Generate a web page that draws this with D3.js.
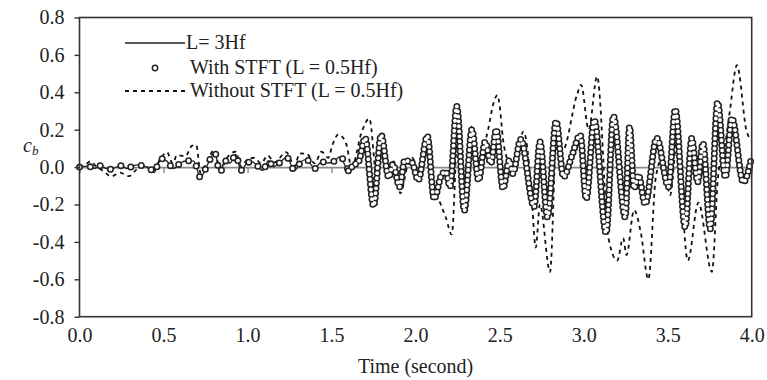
<!DOCTYPE html>
<html>
<head>
<meta charset="utf-8">
<script src="https://cdn.jsdelivr.net/npm/d3@7"></script>
<style>
  html, body { margin: 0; padding: 0; background: #fff; }
  svg { display: block; }
  text { font-family: "Liberation Serif", "Times New Roman", serif; fill: #222; }
</style>
</head>
<body>
<svg id="chart" width="767" height="380"></svg>
<script>
// ---------- data ----------
const xTicks = [0, 0.5, 1.0, 1.5, 2.0, 2.5, 3.0, 3.5, 4.0];
const xTickLabels = ["0.0", "0.5", "1.0", "1.5", "2.0", "2.5", "3.0", "3.5", "4.0"];
const yTicks = [-0.8, -0.6, -0.4, -0.2, 0.0, 0.2, 0.4, 0.6, 0.8];
const yTickLabels = ["-0.8", "-0.6", "-0.4", "-0.2", "0.0", "0.2", "0.4", "0.6", "0.8"];
const seriesNames = ["L= 3Hf", "With STFT (L = 0.5Hf)", "Without STFT (L = 0.5Hf)"];

// L = 3Hf (solid) – time (s) and c_b
const lineTime = [0, 0.05, 0.09, 0.12, 0.15, 0.18, 0.22, 0.25, 0.28, 0.31, 0.34, 0.38, 0.42, 0.445, 0.48, 0.52, 0.56, 0.60, 0.64, 0.68, 0.72, 0.76, 0.805, 0.836, 0.866, 0.896, 0.93, 0.96, 0.995, 1.025, 1.055, 1.09, 1.124, 1.154, 1.19, 1.233, 1.28, 1.318, 1.35, 1.40, 1.44, 1.48, 1.515, 1.55, 1.60, 1.63, 1.66, 1.70, 1.75, 1.795, 1.84, 1.865, 1.905, 1.935, 1.96, 1.98, 2.015, 2.07, 2.11, 2.155, 2.18, 2.205, 2.245, 2.29, 2.335, 2.375, 2.414, 2.448, 2.48, 2.52, 2.558, 2.578, 2.626, 2.705, 2.74, 2.785, 2.836, 2.88, 2.93, 2.98, 3.015, 3.063, 3.134, 3.177, 3.247, 3.273, 3.30, 3.326, 3.366, 3.435, 3.505, 3.545, 3.604, 3.643, 3.678, 3.71, 3.753, 3.797, 3.843, 3.882, 3.95, 4.0];
const lineValue = [0, 0.005, -0.008, 0.008, -0.004, -0.012, 0.0, 0.008, -0.008, 0.002, 0.012, 0.006, -0.008, -0.03, 0.045, 0.032, -0.008, 0.022, 0.034, 0.032, -0.055, 0.01, 0.078, -0.03, 0.034, 0.022, 0.068, -0.018, 0.02, 0.03, 0.01, -0.018, 0.034, 0.002, 0.023, 0.052, -0.018, 0.028, 0.041, -0.008, 0.028, 0.022, 0.032, 0.055, -0.02, 0.01, 0.028, 0.153, -0.205, 0.171, -0.055, 0.016, -0.105, 0.036, 0.03, 0.023, -0.07, 0.166, -0.17, -0.04, -0.025, -0.105, 0.322, -0.23, 0.198, -0.07, 0.135, 0.02, 0.198, -0.114, 0.037, -0.034, 0.148, -0.21, 0.135, -0.266, 0.242, -0.052, 0.06, 0.171, -0.168, 0.25, -0.35, 0.27, -0.266, 0.215, -0.114, -0.043, -0.195, 0.153, -0.105, 0.305, -0.32, 0.153, -0.08, 0.127, -0.328, 0.344, -0.055, 0.26, -0.08, 0.055];

// With STFT (L = 0.5Hf) – circles
const stftTime = [0, 0.05, 0.09, 0.12, 0.15, 0.18, 0.22, 0.25, 0.28, 0.31, 0.34, 0.38, 0.42, 0.445, 0.48, 0.52, 0.56, 0.60, 0.64, 0.68, 0.72, 0.76, 0.805, 0.836, 0.866, 0.896, 0.93, 0.96, 0.995, 1.025, 1.055, 1.09, 1.124, 1.154, 1.19, 1.233, 1.28, 1.318, 1.35, 1.40, 1.44, 1.48, 1.515, 1.55, 1.60, 1.63, 1.66, 1.70, 1.75, 1.795, 1.84, 1.865, 1.905, 1.935, 1.96, 1.98, 2.015, 2.07, 2.11, 2.155, 2.18, 2.205, 2.245, 2.29, 2.335, 2.375, 2.414, 2.448, 2.48, 2.52, 2.558, 2.578, 2.626, 2.705, 2.74, 2.785, 2.836, 2.88, 2.93, 2.98, 3.015, 3.063, 3.134, 3.177, 3.247, 3.273, 3.30, 3.326, 3.366, 3.435, 3.505, 3.545, 3.604, 3.643, 3.678, 3.71, 3.753, 3.797, 3.843, 3.882, 3.95, 4.0];
const stftValue = [0, 0.005, -0.008, 0.008, -0.004, -0.012, 0.0, 0.008, -0.008, 0.002, 0.012, 0.006, -0.008, -0.03, 0.046, 0.032, -0.008, 0.022, 0.034, 0.032, -0.056, 0.01, 0.079, -0.03, 0.034, 0.022, 0.068, -0.018, 0.02, 0.03, 0.01, -0.018, 0.034, 0.002, 0.023, 0.052, -0.018, 0.028, 0.041, -0.008, 0.028, 0.022, 0.032, 0.055, -0.02, 0.01, 0.028, 0.155, -0.207, 0.172, -0.055, 0.016, -0.105, 0.036, 0.03, 0.023, -0.07, 0.166, -0.17, -0.04, -0.025, -0.105, 0.325, -0.232, 0.2, -0.07, 0.135, 0.02, 0.2, -0.114, 0.037, -0.034, 0.148, -0.212, 0.135, -0.268, 0.245, -0.052, 0.06, 0.171, -0.17, 0.252, -0.352, 0.272, -0.268, 0.215, -0.114, -0.043, -0.197, 0.155, -0.105, 0.308, -0.322, 0.153, -0.08, 0.127, -0.33, 0.347, -0.055, 0.262, -0.08, 0.055];

// Without STFT (L = 0.5Hf) – dashed
const dashTime = [0, 0.03, 0.063, 0.10, 0.14, 0.19, 0.24, 0.295, 0.34, 0.38, 0.44, 0.48, 0.52, 0.555, 0.58, 0.63, 0.67, 0.695, 0.72, 0.76, 0.80, 0.84, 0.87, 0.93, 0.96, 1.00, 1.04, 1.08, 1.12, 1.16, 1.23, 1.28, 1.31, 1.35, 1.40, 1.44, 1.48, 1.505, 1.54, 1.585, 1.62, 1.68, 1.725, 1.77, 1.80, 1.84, 1.87, 1.91, 1.95, 1.98, 2.02, 2.07, 2.11, 2.15, 2.18, 2.215, 2.255, 2.29, 2.335, 2.375, 2.405, 2.433, 2.463, 2.487, 2.50, 2.52, 2.55, 2.58, 2.642, 2.665, 2.69, 2.715, 2.74, 2.80, 2.84, 2.875, 2.96, 2.985, 3.03, 3.08, 3.148, 3.20, 3.235, 3.255, 3.30, 3.34, 3.385, 3.43, 3.47, 3.515, 3.555, 3.62, 3.683, 3.763, 3.80, 3.845, 3.87, 3.912, 3.97, 4.0];
const dashValue = [0, 0.008, 0.03, 0.004, -0.02, -0.05, -0.03, -0.048, -0.012, 0.01, -0.02, 0.04, 0.08, 0.02, 0.064, 0.058, 0.115, 0.118, -0.03, 0.03, 0.09, -0.015, 0.04, 0.082, 0.005, 0.04, 0.05, 0.02, 0.062, 0.025, 0.08, 0.005, 0.073, 0.072, 0.02, 0.082, 0.05, 0.118, 0.175, 0.13, 0.0, 0.19, 0.26, -0.06, 0.05, -0.02, 0.03, -0.14, 0.0, 0.05, -0.03, 0.16, -0.1, -0.2, -0.27, -0.36, 0.28, -0.2, 0.22, -0.03, 0.1, 0.207, 0.34, 0.385, 0.33, 0.15, 0.03, -0.02, 0.19, 0.1, -0.15, -0.43, -0.2, -0.56, 0.2, 0.09, 0.385, 0.44, 0.2, 0.485, -0.38, -0.5, -0.38, -0.47, -0.23, -0.35, -0.6, -0.05, 0.05, -0.15, 0.14, -0.5, -0.19, -0.56, -0.05, 0.14, 0.3, 0.545, 0.19, 0.145];

// ---------- layout ----------
const W = 767, H = 380;
const FONT = '"Liberation Serif", "Times New Roman", serif';
const margin = { left: 79.5, top: 17.5, right: 15.3, bottom: 63.3 };
const innerW = W - margin.left - margin.right;
const innerH = H - margin.top - margin.bottom;

const svg = d3.select("#chart");
const g = svg.append("g").attr("transform", `translate(${margin.left},${margin.top})`);

const x = d3.scaleLinear().domain([0, 4]).range([0, innerW]);
const y = d3.scaleLinear().domain([-0.8, 0.8]).range([innerH, 0]);

const zip = (ts, vs) => ts.map((t, i) => ({ t, v: vs[i] }));
const lineData = zip(lineTime, lineValue);
const stftData = zip(stftTime, stftValue);
const dashData = zip(dashTime, dashValue);

const lineGen = d3.line().x(d => x(d.t)).y(d => y(d.v)).curve(d3.curveMonotoneX);

// zero axis with ticks (gray)
const zeroAxis = g.append("g")
  .attr("transform", `translate(0,${y(0)})`)
  .call(d3.axisBottom(x).tickValues(xTicks).tickSize(6).tickSizeOuter(0).tickFormat(""));
zeroAxis.select(".domain").attr("stroke", "#8a8a8a").attr("stroke-width", 1.6);
zeroAxis.selectAll(".tick line").attr("stroke", "#8a8a8a").attr("stroke-width", 1.4);

// dashed series
g.append("path").datum(dashData)
  .attr("d", lineGen).attr("fill", "none")
  .attr("stroke", "#111").attr("stroke-width", 1.8)
  .attr("stroke-dasharray", "4 4");

// solid series
g.append("path").datum(lineData)
  .attr("d", lineGen).attr("fill", "none")
  .attr("stroke", "#222").attr("stroke-width", 1.3);

// STFT series: ring markers along the series
function ringPath(data, gap) {
  const d = lineGen(data);
  g.append("path").attr("d", d).attr("fill", "none")
    .attr("stroke", "#222").attr("stroke-width", 7)
    .attr("stroke-linecap", "round").attr("stroke-dasharray", `0 ${gap}`);
  g.append("path").attr("d", d).attr("fill", "none")
    .attr("stroke", "#fff").attr("stroke-width", 3.9)
    .attr("stroke-linecap", "round").attr("stroke-dasharray", `0 ${gap}`);
}
ringPath(stftData.filter(d => d.t <= 1.6), 11);
ringPath(stftData.filter(d => d.t >= 1.6), 5);

// frame
g.append("rect").attr("x", 0).attr("y", 0).attr("width", innerW).attr("height", innerH)
  .attr("fill", "none").attr("stroke", "#333").attr("stroke-width", 1.6);

// y axis
const yAxis = g.append("g")
  .call(d3.axisLeft(y).tickValues(yTicks).tickSize(5).tickPadding(10)
    .tickFormat((d, i) => yTickLabels[i]))
  .attr("font-family", FONT).attr("font-size", 20);
yAxis.select(".domain").remove();
yAxis.selectAll(".tick line").attr("stroke", "#333").attr("stroke-width", 1.4);
yAxis.selectAll("text").attr("fill", "#222").style("font-family", FONT).style("font-size", "20px");

// x axis labels (bottom)
const xAxis = g.append("g")
  .attr("transform", `translate(0,${innerH})`)
  .call(d3.axisBottom(x).tickValues(xTicks).tickSize(0).tickPadding(11)
    .tickFormat((d, i) => xTickLabels[i]))
  .attr("font-family", FONT).attr("font-size", 20);
xAxis.select(".domain").remove();
xAxis.selectAll("text").attr("fill", "#222").style("font-family", FONT).style("font-size", "20px");

// axis titles
svg.append("text").attr("x", margin.left + innerW / 2).attr("y", 373)
  .attr("text-anchor", "middle").attr("font-size", 20).text("Time (second)");
const yl = svg.append("text").attr("x", 23).attr("y", 152).attr("font-size", 20)
  .attr("font-style", "italic");
yl.append("tspan").text("c");
yl.append("tspan").attr("font-size", 13).attr("dy", 3).text("b");

// legend
const lg = svg.append("g");
const lx0 = 125, lx1 = 185;
lg.append("line").attr("x1", lx0).attr("x2", lx1).attr("y1", 43).attr("y2", 43)
  .attr("stroke", "#222").attr("stroke-width", 1.3);
lg.append("circle").attr("cx", 155).attr("cy", 68).attr("r", 2.7)
  .attr("fill", "#fff").attr("stroke", "#222").attr("stroke-width", 1.4);
lg.append("line").attr("x1", lx0).attr("x2", lx1).attr("y1", 91).attr("y2", 91)
  .attr("stroke", "#111").attr("stroke-width", 1.8).attr("stroke-dasharray", "4 4");
const legY = [49, 74, 97];
seriesNames.forEach((s, i) => {
  lg.append("text").attr("x", i === 0 ? 186 : 190).attr("y", legY[i])
    .attr("font-size", 20).text(s);
});
</script>
</body>
</html>
